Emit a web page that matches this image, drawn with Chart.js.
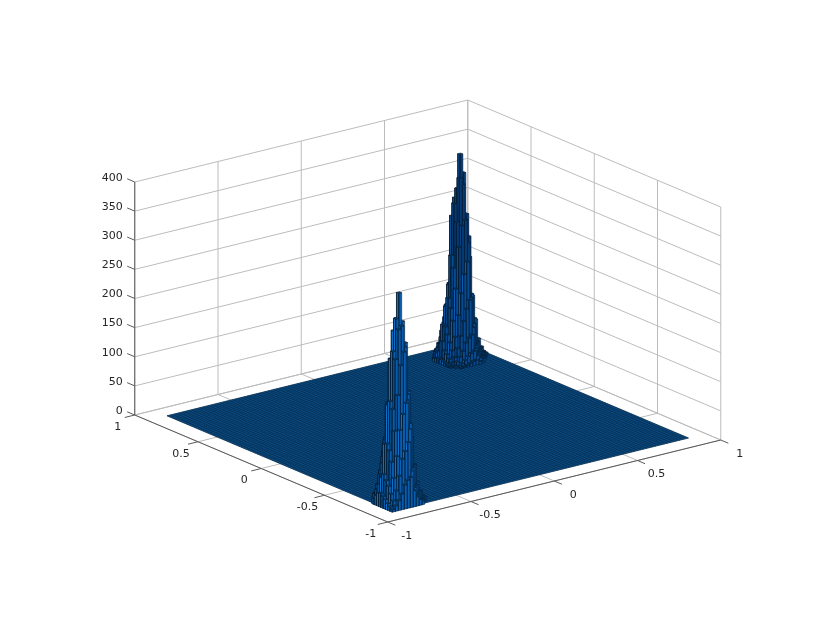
<!DOCTYPE html>
<html lang="en">
<head>
<meta charset="UTF-8">
<title>3D histogram</title>
<script src="https://cdn.jsdelivr.net/npm/chart.js"></script>
<style>
    html, body { margin: 0; background: #fff; }
    canvas { display: block; }
</style>
</head>
<body>
<canvas id="chart" width="830" height="642"></canvas>
<script>
// axis ticks
const xTicks = [-1, -0.5, 0, 0.5, 1];
const yTicks = [-1, -0.5, 0, 0.5, 1];
const zTicks = [0, 50, 100, 150, 200, 250, 300, 350, 400];

// histogram floor: extent of the bins, bin count and the height of an empty bin
const binRange = 0.89;
const binCount = 100;
const floorHeight = 1;

// peak centres
const peak1Center = [-0.78, -0.80];
const peak2Center = [0.75, 0.73];

// bin counts round each peak, rows go from low y to high y, columns from low x to high x
const peak1Counts = [
    [0, 0, 2, 3, 4, 6, 8, 9, 6, 4, 0, 0, 0, 0, 0],
    [1, 1, 3, 7, 12, 18, 21, 24, 15, 9, 6, 0, 0, 0, 0],
    [1, 4, 9, 17, 27, 41, 48, 52, 28, 16, 10, 6, 0, 0, 0],
    [3, 7, 16, 32, 56, 84, 96, 110, 60, 30, 16, 9, 5, 0, 0],
    [4, 11, 26, 52, 88, 132, 158, 176, 130, 62, 30, 16, 8, 5, 0],
    [6, 16, 38, 78, 130, 190, 240, 262, 178, 137, 62, 30, 16, 8, 5],
    [7, 20, 46, 96, 166, 250, 300, 305, 268, 185, 130, 62, 26, 14, 6],
    [9, 24, 55, 106, 178, 262, 317, 360, 310, 272, 188, 108, 60, 28, 12],
    [8, 22, 48, 104, 170, 248, 295, 315, 305, 250, 165, 98, 50, 22, 7],
    [6, 17, 35, 70, 108, 172, 245, 270, 248, 196, 130, 78, 40, 17, 6],
    [0, 10, 24, 48, 78, 110, 168, 175, 158, 122, 84, 50, 26, 11, 4],
    [0, 0, 15, 30, 53, 84, 98, 112, 96, 74, 51, 30, 14, 6, 2],
    [0, 0, 0, 14, 26, 42, 50, 57, 48, 39, 27, 15, 8, 3, 1],
    [0, 0, 0, 0, 8, 13, 19, 23, 21, 15, 11, 6, 3, 1, 0],
    [0, 0, 0, 0, 0, 4, 7, 6, 9, 5, 4, 2, 1, 0, 0]
];
const peak2Counts = [
    [0, 0, 1, 2, 3, 5, 7, 8, 5, 3, 0, 0, 0, 0, 0],
    [0, 2, 3, 6, 10, 15, 19, 22, 13, 8, 5, 0, 0, 0, 0],
    [1, 3, 8, 15, 24, 37, 44, 48, 24, 14, 8, 5, 0, 0, 0],
    [2, 6, 14, 28, 48, 72, 92, 106, 58, 26, 14, 8, 4, 0, 0],
    [4, 11, 24, 46, 82, 118, 150, 170, 108, 62, 26, 14, 8, 4, 0],
    [6, 17, 36, 72, 126, 196, 232, 240, 200, 104, 58, 26, 14, 7, 4],
    [8, 22, 48, 92, 160, 238, 312, 300, 238, 208, 108, 65, 24, 12, 5],
    [9, 36, 60, 108, 180, 268, 292, 350, 317, 245, 170, 102, 60, 26, 11],
    [7, 18, 62, 92, 128, 245, 275, 290, 300, 240, 158, 92, 46, 20, 6],
    [5, 13, 28, 50, 92, 128, 210, 245, 240, 184, 120, 70, 36, 16, 5],
    [0, 8, 20, 36, 60, 90, 126, 170, 150, 118, 78, 46, 22, 10, 3],
    [0, 0, 11, 24, 44, 66, 88, 104, 92, 70, 45, 26, 12, 5, 2],
    [0, 0, 0, 12, 22, 33, 46, 51, 44, 35, 24, 13, 6, 3, 1],
    [0, 0, 0, 0, 9, 12, 18, 21, 19, 13, 8, 5, 2, 1, 0],
    [0, 0, 0, 0, 0, 4, 5, 7, 6, 4, 3, 2, 1, 0, 0]
];

// view of the box, the corner x=0 y=0 z=0 sits in the middle of the floor
function project(x, y, z) {
    return {
        x: 427.75 + 166.5 * x - 126.5 * y,
        y: 427.5 - 41 * x - 53.5 * y - 0.5825 * z
    };
}

const datasets = [];

function addLine(points, color, width) {
    datasets.push({
        data: points.map(p => project(p[0], p[1], p[2])),
        showLine: true, fill: false, tension: 0, pointRadius: 0,
        borderColor: color, borderWidth: width
    });
}

function addFace(points, color, edge, width) {
    datasets.push({
        data: points.map(p => project(p[0], p[1], p[2])),
        showLine: true, fill: 'shape', backgroundColor: color, tension: 0, pointRadius: 0,
        borderColor: edge, borderWidth: width
    });
}

const gridColor = '#bcbcbc';
const axisColor = '#5a5a5a';
const zMax = zTicks[zTicks.length - 1];

// back walls and floor grid
xTicks.forEach(t => {
    addLine([[t, -1, 0], [t, 1, 0], [t, 1, zMax]], gridColor, 1);
});
yTicks.forEach(t => {
    addLine([[-1, t, 0], [1, t, 0], [1, t, zMax]], gridColor, 1);
});
zTicks.forEach(t => {
    addLine([[-1, 1, t], [1, 1, t], [1, -1, t]], gridColor, 1);
});

// axis lines and tick marks
addLine([[-1, 1, 0], [-1, -1, 0], [1, -1, 0]], axisColor, 1);
addLine([[-1, 1, 0], [-1, 1, zMax]], axisColor, 1);
xTicks.forEach(t => addLine([[t, -1, 0], [t, -1.06, 0]], axisColor, 1));
yTicks.forEach(t => addLine([[-1, t, 0], [-1.06, t, 0]], axisColor, 1));
zTicks.forEach(t => addLine([[-1, 1, t], [-1, 1.06, t]], axisColor, 1));

// histogram floor
const binWidth = 2 * binRange / binCount;
addFace([[-binRange, -binRange, floorHeight], [binRange, -binRange, floorHeight],
    [binRange, binRange, floorHeight], [-binRange, binRange, floorHeight],
    [-binRange, -binRange, floorHeight]], '#0b5a9c', '#062c4c', 0.8);
for (let n = 1; n < binCount; n++) {
    const t = -binRange + n * binWidth;
    addLine([[t, -binRange, floorHeight], [t, binRange, floorHeight]], 'rgba(4,24,44,0.7)', 0.6);
    addLine([[-binRange, t, floorHeight], [binRange, t, floorHeight]], 'rgba(4,24,44,0.7)', 0.6);
}

// bars round one peak, drawn from the back to the front
function addPeak(counts, center, shortColors, tallColors, tallFrom) {
    const half = (counts.length - 1) / 2;
    const bars = [];
    counts.forEach((row, r) => row.forEach((h, c) => {
        const x = center[0] + (c - half) * binWidth;
        const y = center[1] + (r - half) * binWidth;
        if (Math.abs(x) < binRange && Math.abs(y) < binRange && h > 0) bars.push({ x, y, h, key: r + c });
    }));
    bars.sort((a, b) => b.key - a.key);
    const w = binWidth / 2;
    bars.forEach(b => {
        const x0 = b.x - w, x1 = b.x + w, y0 = b.y - w, y1 = b.y + w;
        const colors = b.h >= tallFrom ? tallColors : shortColors;
        addFace([[x0, y1, 0], [x0, y0, 0], [x0, y0, b.h], [x0, y1, b.h], [x0, y1, 0]], colors[0], '#051a30', 0.5);
        addFace([[x0, y0, 0], [x1, y0, 0], [x1, y0, b.h], [x0, y0, b.h], [x0, y0, 0]], colors[1], '#051a30', 0.5);
        addFace([[x0, y0, b.h], [x1, y0, b.h], [x1, y1, b.h], [x0, y1, b.h], [x0, y0, b.h]], colors[2], '#051a30', 0.5);
    });
}
addPeak(peak2Counts, peak2Center, ['#0a5cb0', '#084a90', '#0c3a5c'], ['#0a4a90', '#083a72', '#0c3a5c'], 190);
addPeak(peak1Counts, peak1Center, ['#0c70c6', '#0a5cac', '#0c4a78'], ['#0c70c6', '#0a5cac', '#0c4a78'], 190);

// the first dataset is painted last, so the list goes front to back
datasets.reverse();

// tick labels follow the axes
const tickLabels = {
    id: 'tickLabels',
    afterDraw(chart) {
        const { ctx, scales } = chart;
        const put = (text, p, dx, dy, align) => {
            ctx.textAlign = align;
            ctx.fillText(text, scales.x.getPixelForValue(p.x) + dx, scales.y.getPixelForValue(p.y) + dy);
        };
        ctx.save();
        ctx.font = '11px "DejaVu Sans"';
        ctx.fillStyle = '#262626';
        ctx.textBaseline = 'middle';
        xTicks.forEach(t => put(String(t), project(t, -1, 0), 19, 14, 'center'));
        yTicks.forEach(t => put(String(t), project(-1, t, 0), -17, 12, 'center'));
        zTicks.forEach(t => put(String(t), project(-1, 1, t), -12, -4, 'right'));
        ctx.restore();
    }
};

new Chart(document.getElementById('chart'), {
    type: 'scatter',
    data: { datasets },
    options: {
        responsive: false,
        animation: false,
        layout: { padding: 0 },
        plugins: { legend: { display: false }, tooltip: { enabled: false } },
        scales: {
            x: { type: 'linear', display: false, min: 0, max: 830 },
            y: { type: 'linear', display: false, min: 0, max: 642, reverse: true }
        }
    },
    plugins: [tickLabels]
});
</script>
</body>
</html>
